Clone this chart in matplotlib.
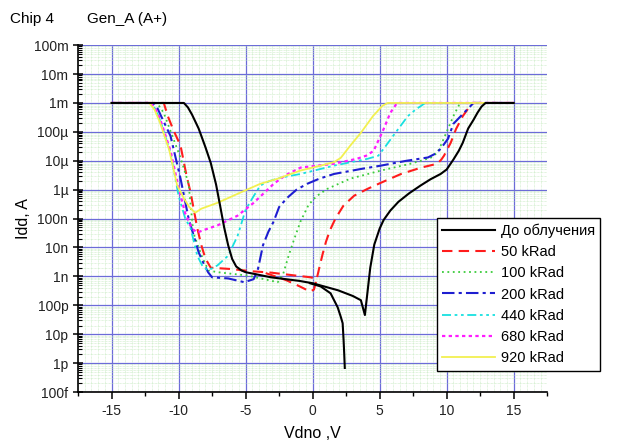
import numpy as np
import matplotlib
matplotlib.use("Agg")
import matplotlib.pyplot as plt
from matplotlib.ticker import FixedLocator, MultipleLocator, LogLocator, FuncFormatter

plt.rcParams['font.family'] = ['Liberation Sans', 'DejaVu Sans']
plt.rcParams['axes.unicode_minus'] = False

# --- I-V sweeps (Vdno in V, Idd in A) ---
labels = ["До облучения", "50 kRad", "100 kRad", "200 kRad", "440 kRad", "680 kRad", "920 kRad"]

v_pre = [-15, -9.6, -9.3, -9.0, -8.5, -8.0, -7.6, -7.2, -6.9, -6.6, -6.3, -6.0, -5.7, -5.3,
         -5.0, -3.1, -1.0, 0.0, 1.9, 3.0, 3.6, 3.9, 4.3, 4.6, 5.0, 5.3, 5.8, 6.4, 7.2, 8.06,
         8.8, 9.55, 10.0, 10.5, 10.9, 11.2, 11.6, 12.0, 12.3, 12.6, 12.9, 15]
i_pre = [1e-3, 1e-3, 7e-4, 4e-4, 1.3e-4, 3e-5, 8.5e-6, 1.5e-6, 2.8e-7, 5e-8, 1.2e-8, 4e-9,
         2.2e-9, 1.6e-9, 1.4e-9, 9.3e-10, 7e-10, 5.8e-10, 3.3e-10, 2.1e-10, 1.5e-10, 4.6e-11,
         2e-9, 1.26e-8, 4.5e-8, 9e-8, 1.9e-7, 3.8e-7, 7.5e-7, 1.4e-6, 2.3e-6, 3.5e-6, 5e-6,
         1.1e-5, 2.2e-5, 4.2e-5, 1.3e-4, 2.6e-4, 4.6e-4, 7.5e-4, 1e-3, 1e-3]
# second (collapsing) branch of the pre-irradiation sweep
v_pre_b = [-0.2, 0.6, 1.34, 1.87, 2.1, 2.24, 2.31, 2.36, 2.4]
i_pre_b = [5.8e-10, 4.5e-10, 2.6e-10, 8.5e-11, 4e-11, 2.4e-11, 6.3e-12, 2e-12, 6.8e-13]

v_50 = [-15, -11.1, -10.8, -10.4, -9.85, -9.4, -9.1, -8.6, -8.3, -8.0, -7.6, -6.1, -4.5, -3.1,
        -1.5, -0.15, 0.3, 0.5, 0.75, 1.0, 1.3, 1.7, 2.3, 3.1, 4.1, 5.1, 6.6, 8.1, 9.3, 9.6,
        9.8, 10.3, 10.7, 11.2, 11.9, 15]
i_50 = [1e-3, 1e-3, 3.5e-4, 1.2e-4, 3.3e-5, 3e-6, 7.9e-7, 4.6e-8, 1.2e-8, 4.2e-9, 2.0e-9,
        1.8e-9, 1.5e-9, 1.35e-9, 1.1e-9, 9.3e-10, 8e-10, 2e-9, 6e-9, 1.6e-8, 4e-8, 1e-7,
        2.8e-7, 6.2e-7, 1.07e-6, 1.74e-6, 3.5e-6, 5.8e-6, 7.9e-6, 1.1e-5, 1.5e-5, 4.2e-5,
        1.26e-4, 3.5e-4, 1e-3, 1e-3]
v_50_b = [-3.5, -2.0, -1.0, -0.2, 0.1, 0.3]
i_50_b = [1.3e-9, 7.5e-10, 4.6e-10, 3e-10, 3.5e-10, 8e-10]

v_100 = [-15, -11.6, -11.1, -10.6, -9.85, -9.25, -8.9, -8.5, -8.2, -7.76, -7.1, -4.85, -2.6,
         -2.2, -1.8, -1.4, -0.9, -0.3, 0.3, 1.1, 2.8, 5.1, 7.3, 8.8, 9.3, 9.55, 10.0, 10.5,
         11.0, 15]
i_100 = [1e-3, 1e-3, 4.5e-4, 1.07e-4, 1.26e-5, 1.6e-6, 3.3e-8, 1e-8, 4.2e-9, 1.6e-9, 1.4e-9,
         1.07e-9, 6.3e-10, 1.2e-9, 5e-9, 1.8e-8, 8e-8, 3e-7, 6e-7, 1.07e-6, 2.4e-6, 4.6e-6,
         7.9e-6, 1.26e-5, 1.9e-5, 3.3e-5, 1e-4, 3.5e-4, 1e-3, 1e-3]

v_200 = [-15, -11.9, -11.6, -11.3, -10.6, -9.85, -9.25, -8.5, -8.1, -7.8, -7.5, -6.3, -5.1,
         -4.4, -4.1, -3.7, -3.3, -2.9, -2.5, -1.9, -1.2, -0.4, 0.5, 1.6, 3.6, 5.1, 7.0, 8.6,
         9.2, 9.55, 10.1, 10.5, 11.3, 12.0, 15]
i_200 = [1e-3, 1e-3, 7e-4, 3.5e-4, 7.2e-5, 2.4e-6, 1e-7, 6.8e-9, 2.6e-9, 1.4e-9, 9.3e-10,
         8.5e-10, 6.3e-10, 8e-10, 1.6e-9, 1.2e-8, 3.5e-8, 8e-8, 2.5e-7, 5.2e-7, 1e-6, 1.6e-6,
         2.4e-6, 3.5e-6, 5.2e-6, 6.8e-6, 1e-5, 1.3e-5, 1.8e-5, 2.6e-5, 5.8e-5, 1.9e-4, 4.6e-4,
         1e-3, 1e-3]

v_440 = [-15, -12.1, -11.7, -11.3, -10.6, -10.0, -9.5, -9.1, -8.6, -8.2, -7.8, -7.1, -6.3,
         -5.6, -5.0, -4.5, -3.9, -3.2, -2.4, -0.9, 1.6, 4.1, 4.9, 5.4, 6.0, 7.1, 7.7, 8.1, 8.4,
         15]
i_440 = [1e-3, 1e-3, 6e-4, 2e-4, 1.9e-5, 6.3e-7, 1e-7, 4.6e-8, 5.2e-9, 2.2e-9, 1.6e-9,
         2.4e-9, 5.2e-9, 2.5e-8, 2e-7, 5e-7, 1.4e-6, 2e-6, 2.6e-6, 3.5e-6, 6.8e-6, 1.17e-5,
         1.5e-5, 3e-5, 7.2e-5, 3.5e-4, 6e-4, 8e-4, 1e-3, 1e-3]

v_680 = [-15, -12.1, -11.7, -11.3, -10.6, -10.0, -9.5, -9.0, -8.6, -8.0, -7.1, -5.6, -4.4,
         -2.9, -2.0, -0.9, 1.6, 3.3, 4.0, 4.55, 5.3, 5.8, 6.3, 15]
i_680 = [1e-3, 1e-3, 6e-4, 2.2e-4, 2.2e-5, 1.2e-6, 1.5e-7, 4.5e-8, 3.3e-8, 4.2e-8, 5.8e-8,
         1.26e-7, 3.5e-7, 1.6e-6, 3.2e-6, 5.8e-6, 7.9e-6, 1.17e-5, 1.5e-5, 2.2e-5, 1.26e-4,
         4.6e-4, 1e-3, 1e-3]

v_920 = [-15, -12.2, -11.8, -11.4, -10.7, -10.1, -9.6, -9.2, -8.75, -8.3, -7.1, -5.4, -3.9,
         -2.6, -0.9, 0.6, 1.6, 2.1, 2.8, 3.6, 4.5, 5.2, 5.6, 15]
i_920 = [1e-3, 1e-3, 6e-4, 2.2e-4, 2.4e-5, 1.4e-6, 5e-7, 2.5e-7, 1.6e-7, 2.2e-7, 3.5e-7,
         7.9e-7, 1.6e-6, 2.4e-6, 4.6e-6, 6.8e-6, 9e-6, 1.26e-5, 3.3e-5, 9.3e-5, 3.5e-4,
         7.9e-4, 1e-3, 1e-3]

y_ticks = [1e-13, 1e-12, 1e-11, 1e-10, 1e-9, 1e-8, 1e-7, 1e-6, 1e-5, 1e-4, 1e-3, 1e-2, 1e-1]
y_tick_labels = ["100f", "1p", "10p", "100p", "1n", "10n", "100n", "1µ", "10µ", "100µ", "1m", "10m", "100m"]
x_ticks = [-15, -10, -5, 0, 5, 10, 15]

# --- figure ---
fig = plt.figure(figsize=(6.29, 4.47), dpi=100)
ax = fig.add_axes([0.124, 0.123, 0.746, 0.776])
ax.set_xlim(-17.5, 17.5)
ax.set_yscale('log')
ax.set_ylim(1e-13, 1e-1)

# fine green background mesh
for xv in np.arange(-17.5, 17.51, 0.5):
    ax.axvline(xv, color='#c6eac0', lw=0.5, ls=(0, (1, 1)), zorder=0)
ax.yaxis.set_minor_locator(LogLocator(base=10, subs=np.arange(2, 10), numticks=50))
ax.grid(True, which='minor', axis='y', color='#c6eac0', lw=0.5, ls=(0, (1, 1)), zorder=0)
ax.grid(True, which='major', color='#6c6cd8', lw=0.9, ls='-', zorder=1)

ax.xaxis.set_major_locator(FixedLocator(x_ticks))
ax.xaxis.set_minor_locator(MultipleLocator(2.5))
ax.yaxis.set_major_locator(FixedLocator(y_ticks))
ax.yaxis.set_major_formatter(FuncFormatter(lambda v, p: y_tick_labels[y_ticks.index(v)]
                                           if v in y_ticks else ""))
ax.yaxis.set_minor_formatter(FuncFormatter(lambda v, p: ""))

for s in ['top', 'right']:
    ax.spines[s].set_visible(False)
for s in ['left', 'bottom']:
    ax.spines[s].set_linewidth(1.2)

ax.tick_params(axis='x', which='major', direction='out', length=5, width=1.1, labelsize=10,
               labelcolor='#222222')
ax.tick_params(axis='x', which='minor', direction='out', length=3, width=1.0)
ax.tick_params(axis='y', which='major', direction='inout', length=7, width=1.1, labelsize=10,
               labelcolor='#222222')
ax.tick_params(axis='y', which='minor', direction='in', length=3, width=0.8)

# --- curves ---
lw = 1.3
ax.plot(v_pre, i_pre, color='black', lw=1.5, ls='-', label=labels[0], zorder=5)
ax.plot(v_pre_b, i_pre_b, color='black', lw=1.5, ls='-', zorder=5)
ax.plot(v_50, i_50, color='#ff1c1c', lw=1.5, ls=(0, (5, 3)), label=labels[1], zorder=4)
ax.plot(v_50_b, i_50_b, color='#ff1c1c', lw=1.5, ls=(0, (5, 3)), zorder=4)
ax.plot(v_100, i_100, color='#3ccc3c', lw=lw, ls=(0, (1, 2)), label=labels[2], zorder=4)
ax.plot(v_200, i_200, color='#1e1ed0', lw=1.5, ls=(0, (6, 2, 1.5, 2)), label=labels[3], zorder=4)
ax.plot(v_440, i_440, color='#18e0e0', lw=lw, ls=(0, (5, 2, 1.5, 2, 1.5, 2)), label=labels[4], zorder=4)
ax.plot(v_680, i_680, color='#ff1cff', lw=1.6, ls=(0, (1.5, 1.5)), label=labels[5], zorder=4)
ax.plot(v_920, i_920, color='#f2f050', lw=lw, ls='-', label=labels[6], zorder=4)

ax.set_xlabel("Vdno ,V", fontsize=11.5, labelpad=6)
ax.set_ylabel("Idd, A", fontsize=11.5, labelpad=2)

fig.text(0.016, 0.958, "Chip 4", fontsize=11, va='center', ha='left')
fig.text(0.138, 0.958, "Gen_A (A+)", fontsize=11, va='center', ha='left')

leg = ax.legend(loc='upper left', bbox_to_anchor=(0.695, 0.512), bbox_transform=fig.transFigure,
                fontsize=10.5, frameon=True, fancybox=False, edgecolor='black', framealpha=1,
                handlelength=3.6, handletextpad=0.4, labelspacing=0.5, borderpad=0.35,
                borderaxespad=0)
leg.get_frame().set_linewidth(1.0)
leg.set_zorder(10)

fig.savefig("out.png", dpi=100)
